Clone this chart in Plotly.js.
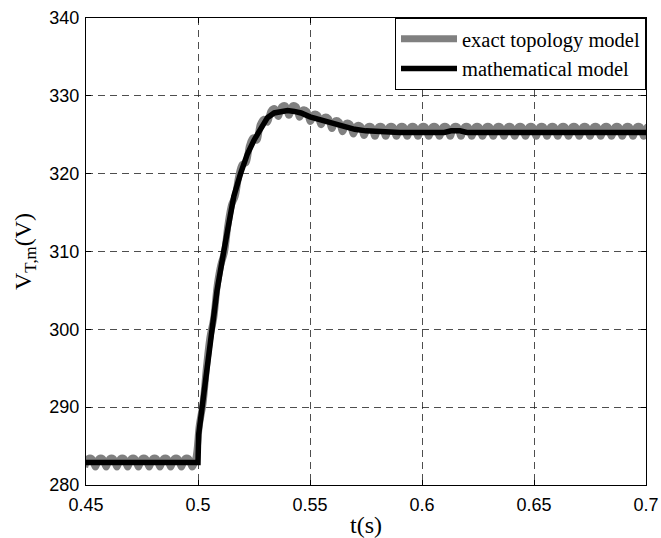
<!DOCTYPE html>
<html><head><meta charset="utf-8">
<script src="https://cdn.plot.ly/plotly-3.0.1.min.js"></script>
<style>html,body{margin:0;padding:0;background:#fff}#chart{width:661px;height:538px}</style>
</head><body><div id="chart"></div>
<script>
// exact topology model (gray, with switching ripple): trough, crest, crest per ripple period
const exactT = [
0.4494,0.4510,0.4526, 0.4542,0.4558,0.4574, 0.4590,0.4606,0.4622, 0.4638,0.4654,0.4670,
0.4686,0.4702,0.4718, 0.4734,0.4750,0.4766, 0.4782,0.4798,0.4814, 0.4830,0.4846,0.4862,
0.4878,0.4894,0.4910, 0.4926,0.4942,0.4958, 0.4974,0.4990,0.5006, 0.5022,0.5038,0.5054,
0.5070,0.5086,0.5102, 0.5118,0.5134,0.5150, 0.5166,0.5182,0.5198, 0.5214,0.5230,0.5246,
0.5262,0.5278,0.5294, 0.5310,0.5326,0.5342, 0.5358,0.5374,0.5390, 0.5406,0.5422,0.5438,
0.5454,0.5470,0.5486, 0.5502,0.5518,0.5534, 0.5550,0.5566,0.5582, 0.5598,0.5614,0.5630,
0.5646,0.5662,0.5678, 0.5694,0.5710,0.5726, 0.5742,0.5758,0.5774, 0.5790,0.5806,0.5822,
0.5838,0.5854,0.5870, 0.5886,0.5902,0.5918, 0.5934,0.5950,0.5966, 0.5982,0.5998,0.6014,
0.6030,0.6046,0.6062, 0.6078,0.6094,0.6110, 0.6126,0.6142,0.6158, 0.6174,0.6190,0.6206,
0.6222,0.6238,0.6254, 0.6270,0.6286,0.6302, 0.6318,0.6334,0.6350, 0.6366,0.6382,0.6398,
0.6414,0.6430,0.6446, 0.6462,0.6478,0.6494, 0.6510,0.6526,0.6542, 0.6558,0.6574,0.6590,
0.6606,0.6622,0.6638, 0.6654,0.6670,0.6686, 0.6702,0.6718,0.6734, 0.6750,0.6766,0.6782,
0.6798,0.6814,0.6830, 0.6846,0.6862,0.6878, 0.6894,0.6910,0.6926, 0.6942,0.6958,0.6974,
0.6990,0.7006,0.7022];
const exactV = [
282.3,283.4,283.4, 282.3,283.4,283.4, 282.3,283.4,283.4, 282.3,283.4,283.4,
282.3,283.4,283.4, 282.3,283.4,283.4, 282.3,283.4,283.4, 282.3,283.4,283.4,
282.3,283.4,283.4, 282.3,283.4,283.4, 282.3,283.4,287.7, 290.4,295.2,299.1,
301.4,305.7,308.3, 309.9,313.5,316.0, 317.1,319.7,321.2, 321.4,323.6,324.6,
324.3,326.3,327.0, 326.6,328.05,328.35, 327.35,328.6,328.7, 327.5,328.7,328.6,
327.25,328.2,328.0, 326.7,327.65,327.5, 326.3,327.25,327.1, 325.8,326.8,326.65,
325.4,326.45,326.35, 325.1,326.15,326.1, 324.9,326.0,326.0, 324.8,326.0,326.0,
324.8,326.0,326.0, 324.8,326.0,326.0, 324.8,326.0,326.0, 324.8,326.0,326.0,
324.8,326.0,326.0, 324.8,326.0,326.0, 324.8,326.0,326.0, 324.8,326.0,326.0,
324.8,326.0,326.0, 324.8,326.0,326.0, 324.8,326.0,326.0, 324.8,326.0,326.0,
324.8,326.0,326.0, 324.8,326.0,326.0, 324.8,326.0,326.0, 324.8,326.0,326.0,
324.8,326.0,326.0, 324.8,326.0,326.0, 324.8,326.0,326.0, 324.8,326.0,326.0,
324.8,326.0,326.0, 324.8,326.0,326.0, 324.8,326.0,326.0, 324.8,326.0,326.0,
324.8,326.0,326.0];
// mathematical model (black, averaged)
const mathT = [0.45,0.5,0.5003,0.5018,0.5033,0.506,0.5085,0.5115,0.514,0.516,
0.519,0.522,0.525,0.528,0.531,0.534,0.537,0.540,0.543,0.546,
0.55,0.555,0.56,0.565,0.57,0.575,0.58,0.585,0.59,0.6,
0.61,0.613,0.617,0.62,0.65,0.7];
const mathV = [282.9,282.9,286.5,290,293.5,300,305,310,314,317.1,
320,322.5,324.3,325.9,327.2,327.8,328.0,328.1,328.0,327.8,
327.3,326.9,326.4,326.0,325.7,325.5,325.4,325.35,325.3,325.3,
325.3,325.5,325.5,325.3,325.3,325.3];
const seriesNames = ['exact topology model','mathematical model'];
const xTickVals = [0.45,0.5,0.55,0.6,0.65,0.7];
const xTickText = ['0.45','0.5','0.55','0.6','0.65','0.7'];
const yTickVals = [280,290,300,310,320,330,340];
const yTickText = ['280','290','300','310','320','330','340'];

const sans = 'Liberation Sans, Arial, sans-serif';
const serif = 'Liberation Serif, Times New Roman, serif';

const traces = [
  {x: exactT, y: exactV, name: seriesNames[0], type: 'scatter', mode: 'lines',
   line: {color: '#808080', width: 7, shape: 'spline', smoothing: 1}},
  {x: mathT, y: mathV, name: seriesNames[1], type: 'scatter', mode: 'lines',
   line: {color: '#000000', width: 5.5}}
];

const axisCommon = {
  showline: true, linecolor: '#000', linewidth: 1, mirror: 'ticks',
  ticks: 'inside', ticklen: 5, tickcolor: '#000', tickwidth: 1,
  showgrid: true, gridcolor: '#222', gridwidth: 0.8, griddash: '7px,5px',
  zeroline: false, tickfont: {family: sans, size: 18, color: '#000'}
};

const layout = {
  width: 661, height: 538,
  margin: {l: 86, r: 15, t: 18, b: 53},
  paper_bgcolor: '#fff', plot_bgcolor: '#fff',
  showlegend: true,
  xaxis: Object.assign({}, axisCommon, {
    range: [0.45, 0.7], tickmode: 'array', tickvals: xTickVals, ticktext: xTickText,
    ticklabelstandoff: 3,
    title: {text: 't(s)', font: {family: serif, size: 24, color: '#000'}, standoff: 3}
  }),
  yaxis: Object.assign({}, axisCommon, {
    range: [280, 340], tickmode: 'array', tickvals: yTickVals, ticktext: yTickText,
    ticklabelstandoff: 2,
    title: {text: 'V<sub>T,m</sub>(V)', font: {family: serif, size: 24, color: '#000'}, standoff: 10}
  }),
  legend: {
    x: 1, xanchor: 'right', y: 1, yanchor: 'top',
    bgcolor: '#fff', bordercolor: '#000', borderwidth: 1,
    font: {family: serif, size: 20.5, color: '#000'},
    itemwidth: 56, tracegroupgap: 0
  }
};

Plotly.newPlot('chart', traces, layout, {displayModeBar: false, staticPlot: true});
</script>
</body></html>
